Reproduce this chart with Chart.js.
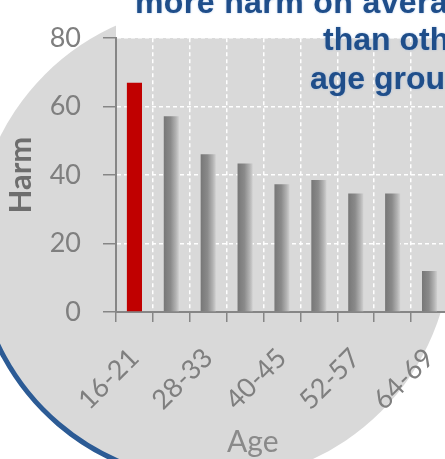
<!DOCTYPE html>
<html>
<head>
<meta charset="utf-8">
<title>Harm by age</title>
<script src="https://cdn.jsdelivr.net/npm/chart.js@4.4.1/dist/chart.umd.min.js"></script>
<style>
  html, body { margin: 0; padding: 0; background: #fff; overflow: hidden; }
  body { width: 445px; height: 459px; position: relative; }
  #wrap { position: absolute; left: 0; top: 0; width: 460px; height: 459px; }
  .note {
    position: absolute;
    font: bold 32px "Liberation Sans", Arial, sans-serif;
    line-height: 32px;
    color: #1f4e8a;
    white-space: nowrap;
    text-shadow: 0 0 2px rgba(90, 140, 210, 0.5);
  }
  #ageTitle {
    position: absolute;
    left: 227px;
    top: 425px;
    font: 30px Lato, sans-serif;
    line-height: 30px;
    color: #8a8a8a;
    white-space: nowrap;
  }
</style>
</head>
<body>
<div id="wrap"><canvas id="harmChart" width="460" height="459"></canvas></div>
<div class="note" style="left:135px; top:-14px; letter-spacing:0.4px;">more harm on average</div>
<div class="note" style="left:323px; top:23px;">than other</div>
<div class="note" style="left:310px; top:62px;">age groups</div>
<div id="ageTitle">Age</div>

<script>
// data
const ageGroups = ["16-21", "22-27", "28-33", "34-39", "40-45", "46-51", "52-57", "58-63", "64-69"];
const harmValues = [67, 57.2, 46.1, 43.4, 37.3, 38.6, 34.6, 34.6, 12];
const harmTicks = [0, 20, 40, 60, 80];

const AXIS_GREY = "#868686";
const LABEL_GREY = "#7f7f7f";
const BAR_HALF = 7.5;

// first bar red, the rest a shaded grey
function barFill(ctx) {
  if (ctx.dataIndex === 0) return "#c00000";
  const chart = ctx.chart;
  if (!chart.chartArea) return "#8c8c8c";
  const x = chart.scales.x.getPixelForValue(ctx.dataIndex);
  const g = chart.ctx.createLinearGradient(x - BAR_HALF, 0, x + BAR_HALF, 0);
  g.addColorStop(0, "#777777");
  g.addColorStop(0.45, "#8a8a8a");
  g.addColorStop(0.8, "#b2b2b2");
  g.addColorStop(1, "#cfcfcf");
  return g;
}

// grey disc with blue rim behind the chart, plus the plot area fill
const backdrop = {
  id: "backdrop",
  beforeDraw(chart) {
    const { ctx, chartArea: a } = chart;
    ctx.save();
    ctx.beginPath();
    ctx.rect(0, 0, chart.width, chart.height);
    ctx.rect(a.left, 0, chart.width - a.left, a.top);
    ctx.clip("evenodd");
    ctx.beginPath();
    ctx.arc(213, 243, 238, 0, Math.PI * 2);
    ctx.fillStyle = "#d9d9d9";
    ctx.fill();
    ctx.beginPath();
    ctx.arc(213, 243, 238, 0.5 * Math.PI, 0.95 * Math.PI);
    ctx.strokeStyle = "#2c5b95";
    ctx.lineWidth = 5;
    ctx.stroke();
    ctx.restore();
    ctx.fillStyle = "#d9d9d9";
    ctx.fillRect(a.left, a.top, a.right - a.left, a.bottom - a.top);
  }
};

new Chart(document.getElementById("harmChart"), {
  type: "bar",
  data: {
    labels: ageGroups,
    datasets: [{
      label: "Harm",
      data: harmValues,
      backgroundColor: barFill,
      borderWidth: 0,
      categoryPercentage: 1,
      barPercentage: 0.41
    }]
  },
  options: {
    responsive: false,
    animation: false,
    devicePixelRatio: 1,
    layout: { padding: { top: 22, right: 12, left: 0, bottom: 0 } },
    plugins: {
      legend: { display: false },
      tooltip: { enabled: false }
    },
    scales: {
      x: {
        grid: {
          color: "#ffffff",
          lineWidth: 1.5,
          offset: true,
          tickColor: AXIS_GREY,
          tickWidth: 1.5,
          tickLength: 10
        },
        border: { color: AXIS_GREY, width: 2, dash: [4, 3] },
        ticks: {
          autoSkip: false,
          minRotation: 45,
          maxRotation: 45,
          padding: 20,
          color: LABEL_GREY,
          font: { family: "Lato", size: 27 },
          callback: (v, i) => (i % 2 ? "" : ageGroups[i])
        },
        afterFit: s => {
          s.height = 147;
          s.paddingRight = 0;
        }
      },
      y: {
        min: harmTicks[0],
        max: harmTicks[harmTicks.length - 1],
        grid: {
          color: "#ffffff",
          lineWidth: 1.5,
          tickColor: AXIS_GREY,
          tickWidth: 1.5,
          tickLength: 13
        },
        border: { color: AXIS_GREY, width: 2, dash: [4, 3] },
        ticks: {
          stepSize: harmTicks[1] - harmTicks[0],
          padding: 22,
          color: LABEL_GREY,
          font: { family: "Lato", size: 27 }
        },
        title: {
          display: true,
          text: "Harm",
          color: "#6e6e6e",
          font: { family: "Lato", size: 31, weight: "bold" },
          padding: { top: 2, bottom: 0 }
        },
        afterFit: s => { s.width = 116; }
      }
    }
  },
  plugins: [backdrop]
});
</script>
</body>
</html>
